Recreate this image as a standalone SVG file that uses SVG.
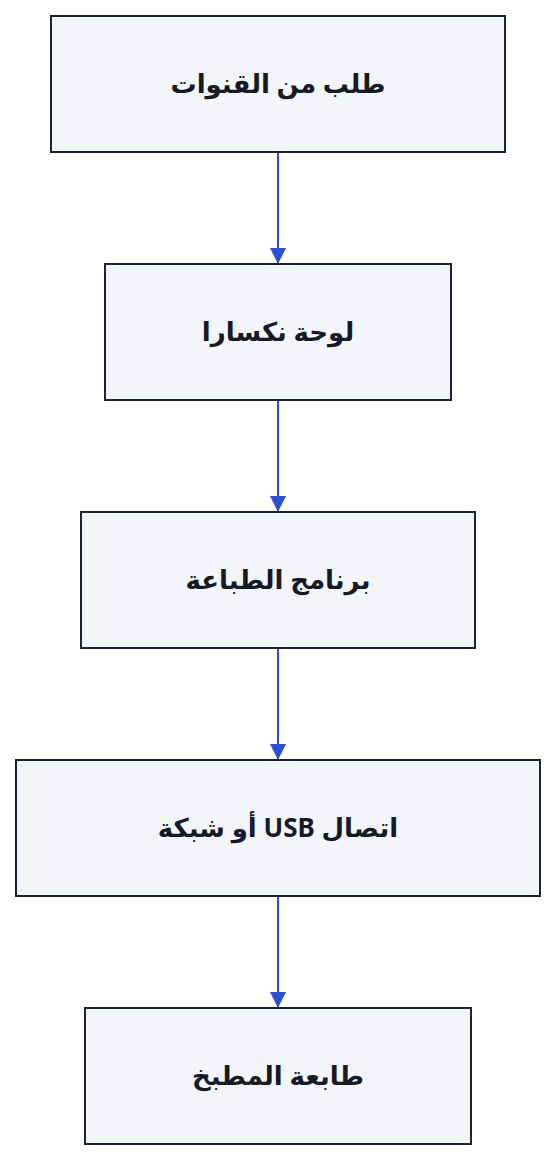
<svg xmlns="http://www.w3.org/2000/svg" width="556" height="1160" viewBox="0 0 556 1160">
<style>
.node rect{fill:#f4f5f8;stroke:#1b2233;stroke-width:2}
.node text{font-family:"Noto Sans","DejaVu Sans",sans-serif;font-weight:700;font-size:26px;fill:#151a26;text-anchor:middle;dominant-baseline:central}
.edge{stroke:#2b50d6;stroke-width:2;fill:none}
</style>
<defs>
<marker id="arr" viewBox="0 0 16 16" refX="16" refY="8" markerWidth="16" markerHeight="16" markerUnits="userSpaceOnUse" orient="auto">
<path d="M0,0 L16,8 L0,16 Z" fill="#2b50d6"/>
</marker>
</defs>
<rect width="556" height="1160" fill="#ffffff"/>
<g id="connectors">
<line class="edge" x1="278" y1="152" x2="278" y2="264" marker-end="url(#arr)"/>
<line class="edge" x1="278" y1="400" x2="278" y2="512" marker-end="url(#arr)"/>
<line class="edge" x1="278" y1="648" x2="278" y2="760" marker-end="url(#arr)"/>
<line class="edge" x1="278" y1="896" x2="278" y2="1008" marker-end="url(#arr)"/>
</g>
<g id="n1" class="node"><rect x="51" y="16" width="454" height="136"/><text x="278" y="83" direction="rtl">طلب من القنوات</text></g>
<g id="n2" class="node"><rect x="105" y="264" width="346" height="136"/><text x="278" y="331" direction="rtl">لوحة نكسارا</text></g>
<g id="n3" class="node"><rect x="81" y="512" width="394" height="136"/><text x="278" y="579" direction="rtl">برنامج الطباعة</text></g>
<g id="n4" class="node"><rect x="16" y="760" width="524" height="136"/><text x="278" y="827" direction="rtl">اتصال USB أو شبكة</text></g>
<g id="n5" class="node"><rect x="85" y="1008" width="386" height="136"/><text x="278" y="1075" direction="rtl">طابعة المطبخ</text></g>
</svg>
